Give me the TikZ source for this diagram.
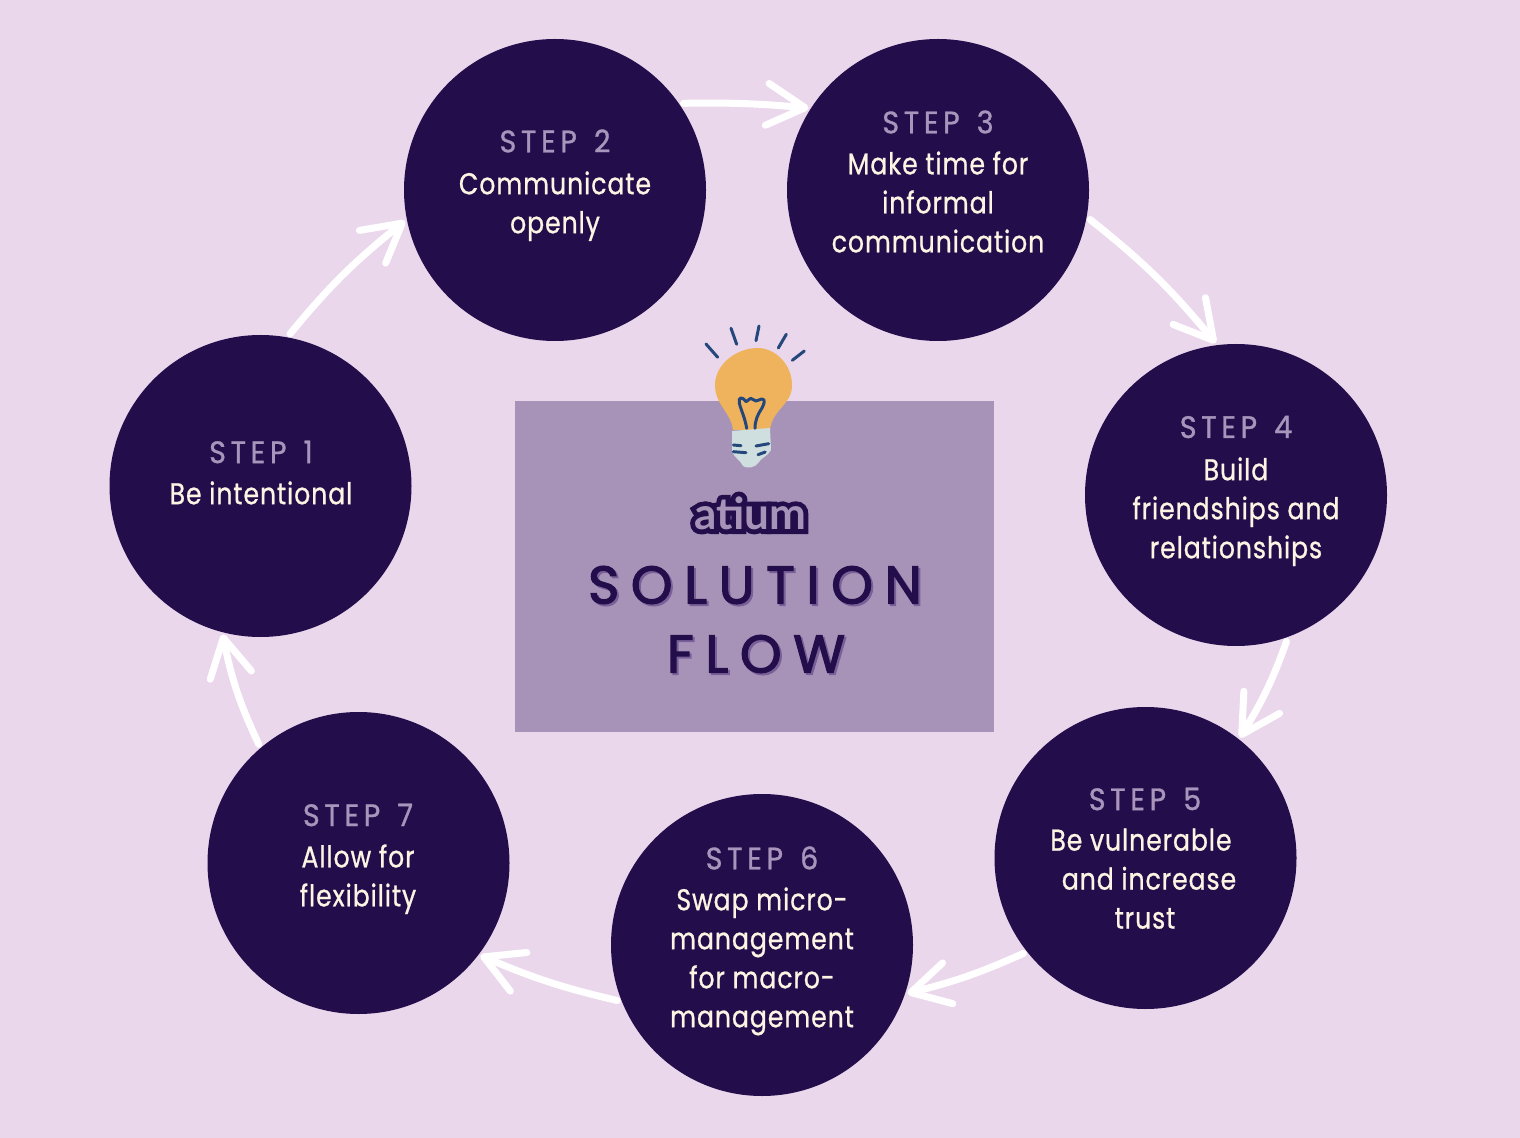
\documentclass[tikz,border=0pt]{standalone}
\usepackage{fontspec}
\setmainfont{Poppins}
\newfontfamily\stepfont[LetterSpace=15,WordSpace=1.4,FakeStretch=0.92,FakeBold=1]{Poppins}
\newfontfamily\bodyfont[LetterSpace=3,FakeStretch=0.84,FakeBold=0.8]{Poppins}
\newfontfamily\headfont[LetterSpace=22,FakeBold=2.5]{Poppins}
\newfontfamily\logofont{Lato Bold}
\newfontfamily\logoedge[FakeBold=22]{Lato Bold}
\usetikzlibrary{arrows.meta}
\definecolor{pagebg}{HTML}{EAD7EC}
\definecolor{stepdark}{HTML}{230E4B}
\definecolor{panelbg}{HTML}{A893B8}
\definecolor{steptitle}{HTML}{A994BC}
\definecolor{cream}{HTML}{FDF5E3}
\definecolor{headshade}{HTML}{7A6098}
\definecolor{bulbyellow}{HTML}{EFB35D}
\definecolor{bulbbase}{HTML}{CFDFE0}
\definecolor{bulbline}{HTML}{25487C}
\tikzset{
  stepcircle/.style={circle, fill=stepdark, minimum size=151pt, inner sep=0pt, outer sep=2pt},
  steplabel/.style={text=steptitle, font=\fontsize{15.5pt}{18pt}\stepfont, inner sep=0pt},
  stepbody/.style={text=cream, font=\fontsize{15pt}{19.5pt}\bodyfont, align=center, anchor=north, inner sep=0pt},
  flow/.style={draw=white, line width=3.5pt, line cap=round, shorten >=-1pt, -{Straight Barb[length=19pt,width=21pt,round]}},
  bulbstroke/.style={draw=bulbline, line width=1.5pt, line cap=round, line join=round},
  headline/.style={font=\fontsize{26.5pt}{30pt}\headfont, inner sep=0pt},
}
\begin{document}
\begin{tikzpicture}[x=0.5pt,y=-0.5pt]
\fill[pagebg] (0,0) rectangle (1520,1138);
\useasboundingbox (0,0) rectangle (1520,1138);
\fill[panelbg] (515,401) rectangle (994,732);
% circles
\node[stepcircle] (s1) at (260.5,486) {};
\node[stepcircle] (s2) at (555,190) {};
\node[stepcircle] (s3) at (938,190) {};
\node[stepcircle] (s4) at (1236,495) {};
\node[stepcircle] (s5) at (1145.5,858) {};
\node[stepcircle] (s6) at (762,945) {};
\node[stepcircle] (s7) at (358.5,863) {};
% arrows
\draw[flow] (s1.79) to[bend left=6] (s2.192);
\draw[flow] (s2.34) to[bend left=3] (s3.148);
\draw[flow] (s3.-11) to[bend left=6] (s4.98);
\draw[flow] (s4.-71) to[bend left=6] (s5.52);
\draw[flow] (s5.218) to[bend left=5] (s6.-18);
\draw[flow] (s6.201) to[bend left=5] (s7.-37);
\draw[flow] (s7.130) to[bend left=7] (s1.256);
% step texts
\node[steplabel] (l1) at (261,452) {STEP 1};
\node[stepbody] (b1) at (261,481) {Be intentional};
\node[steplabel] (l2) at (555,141) {STEP 2};
\node[stepbody] (b2) at (555,171) {Communicate\\openly};
\node[steplabel] (l3) at (938,122) {STEP 3};
\node[stepbody] (b3) at (938,151) {Make time for\\informal\\communication};
\node[steplabel] (l4) at (1236,427) {STEP 4};
\node[stepbody] (b4) at (1236,457) {Build\\friendships and\\relationships};
\node[steplabel] (l5) at (1145,799) {STEP 5};
\node[stepbody] (b5) at (1145,828) {Be vulnerable\kern4pt\\\kern4pt and increase\\trust};
\node[steplabel] (l6) at (762,858) {STEP 6};
\node[stepbody] (b6) at (762,887) {Swap micro-\\management\\for macro-\\management};
\node[steplabel] (l7) at (358,815) {STEP 7};
\node[stepbody] (b7) at (358,844) {Allow for\\flexibility};
% panel title
\node[text=stepdark, font=\fontsize{22pt}{24pt}\logoedge, inner sep=0pt] (logoback) at (750,513) {atium};
\node[text=panelbg, font=\fontsize{22pt}{24pt}\logofont, inner sep=0pt] (logo) at (750,513) {atium};
\node[headline, text=headshade] (shade1) at (757,587) {SOLUTION};
\node[headline, text=stepdark] (head1) at (755,585) {SOLUTION};
\node[headline, text=headshade] (shade2) at (758,656) {FLOW};
\node[headline, text=stepdark] (head2) at (756,654) {FLOW};
% bulb
\fill[bulbyellow] (756,348) .. controls (775,347) and (793,365) .. (792,387)
  .. controls (791,405) and (772,410) .. (770,430) -- (733,430)
  .. controls (731,412) and (715,405) .. (715,385)
  .. controls (715,365) and (735,349) .. (756,348) -- cycle;
\fill[bulbbase] (732,431) -- (770,428) -- (771,450) .. controls (768,456) and (761,458) .. (759,462)
  .. controls (756,468) and (746,469) .. (743,466) .. controls (741,460) and (733,458) .. (732,450) -- cycle;
\draw[bulbstroke] (746.7,428.3) .. controls (745,418) and (741,410) .. (739.3,403)
  .. controls (738,397) and (742,396) .. (746,401.7) -- (750.7,398.3) -- (756,401) -- (761.7,399)
  .. controls (766,399) and (764,404) .. (762,408) .. controls (758,414) and (755,420) .. (755,428.3);
\draw[bulbstroke] (706,344) -- (717.7,357.3);
\draw[bulbstroke] (731,328.3) -- (736.7,344.3);
\draw[bulbstroke] (759,326) -- (756,340.7);
\draw[bulbstroke] (786.3,334.3) -- (778.3,348);
\draw[bulbstroke] (804.3,351) -- (792.3,360.3);
\draw[bulbstroke] (733.3,445) -- (741,445.7);
\draw[bulbstroke] (756,446) -- (768.7,443.7);
\draw[bulbstroke] (733.3,451.7) -- (746,452.7);
\draw[bulbstroke] (758,454.7) -- (765.3,452);
\end{tikzpicture}
\end{document}
